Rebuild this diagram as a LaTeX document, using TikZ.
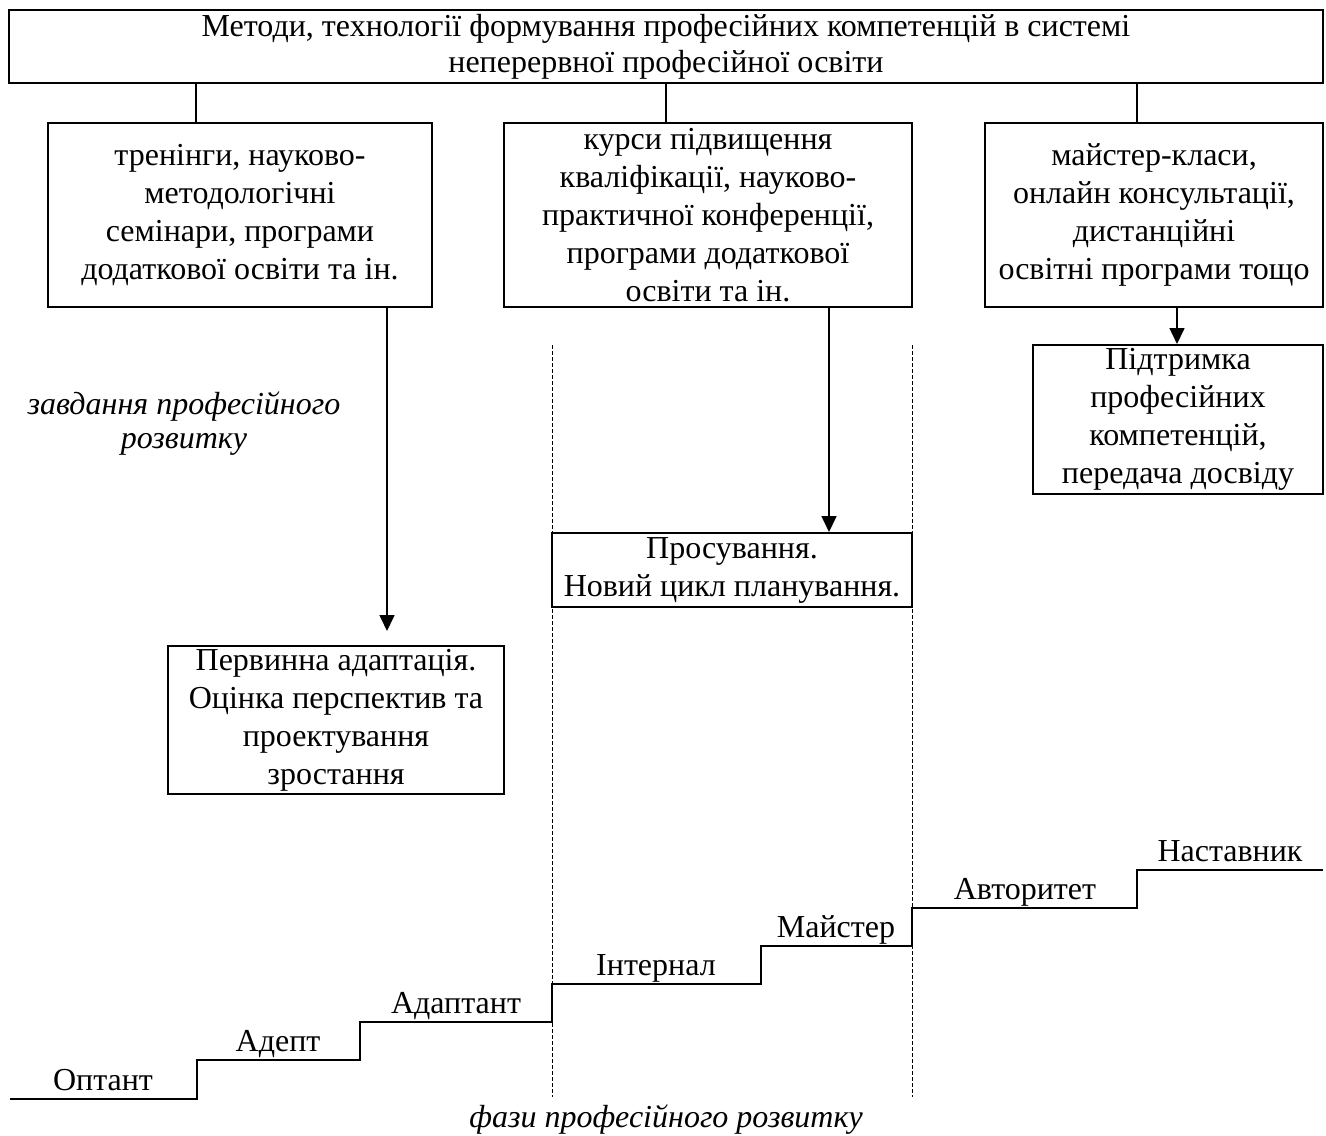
\documentclass[tikz,border=0pt]{standalone}
\usepackage{fontspec}
\setmainfont{Liberation Serif}
\usetikzlibrary{arrows.meta}

\tikzset{
  box/.style = {draw, line width=1pt, inner sep=0pt, align=center},
  link/.style = {line width=0.8pt},
  arr/.style = {line width=0.8pt, -{Triangle[length=8pt,width=7.5pt]}},
  phase/.style = {line width=0.4pt, dash pattern=on 2pt off 1pt},
  stair/.style = {line width=1.3pt},
  stage/.style = {anchor=base},
}

\begin{document}
\begin{tikzpicture}[x=0.5pt, y=-0.5pt, font=\fontsize{16}{19}\selectfont]
			\useasboundingbox (0,0) rectangle (1326,1135);

			% boxes
			\node[box, minimum width=657pt, minimum height=36.5pt, font=\fontsize{16}{18}\selectfont] (top) at (666,46.5)
				{Методи, технології формування професійних компетенцій в системі\\неперервної професійної освіти};

			\node[box, minimum width=192pt, minimum height=92pt] (train) at (240,215)
				{тренінги, науково-\\методологічні\\семінари, програми\\додаткової освіти та ін.};
			\node[box, minimum width=204pt, minimum height=92pt] (course) at (708,215)
				{курси підвищення\\кваліфікації, науково-\\практичної конференції,\\програми додаткової\\освіти та ін.};
			\node[box, minimum width=169pt, minimum height=92pt] (master) at (1154,215)
				{майстер-класи,\\онлайн консультації,\\дистанційні\\освітні програми тощо};

			\node[box, minimum width=145pt, minimum height=74.5pt] (support) at (1178,419.5)
				{Підтримка\\професійних\\компетенцій,\\передача досвіду};
			\node[box, minimum width=180pt, minimum height=37pt] (advance) at (732,570)
				{Просування.\\Новий цикл планування.};
			\node[box, minimum width=168pt, minimum height=74pt] (adapt) at (336,720)
				{Первинна адаптація.\\Оцінка перспектив та\\проектування\\зростання};

			% connectors
			\coordinate (c1) at (196,0);
			\coordinate (c2) at (666,0);
			\coordinate (c3) at (1137,0);
			\draw[link] (top.south -| c1) -- (train.north -| c1);
			\draw[link] (top.south -| c2) -- (course.north -| c2);
			\draw[link] (top.south -| c3) -- (master.north -| c3);

			\coordinate (a1) at (387,0);
			\coordinate (a2) at (829,0);
			\coordinate (a3) at (1177,0);
			\draw[arr, shorten >=7pt] (train.south -| a1) -- (adapt.north -| a1);
			\draw[arr] (course.south -| a2) -- (advance.north -| a2);
			\draw[arr] (master.south -| a3) -- (support.north -| a3);

			% phase borders
			\draw[phase] (552,345) -- (552,1097);
			\draw[phase] (912,345) -- (912,1097);

			% stairs
			\draw[stair] (10,1099) -- (197,1099) -- (197,1060) -- (360,1060) -- (360,1022)
				-- (552,1022) -- (552,984) -- (761,984) -- (761,946) -- (912,946)
				-- (912,908) -- (1137,908) -- (1137,870) -- (1323,870);

			\node[stage] (optant) at (103,1090) {Оптант};
			\node[stage] (adept) at (278,1051) {Адепт};
			\node[stage] (adaptant) at (456,1013) {Адаптант};
			\node[stage] (internal) at (656,975) {Інтернал};
			\node[stage] (maister) at (836,937) {Майстер};
			\node[stage] (avtor) at (1025,899) {Авторитет};
			\node[stage] (nastav) at (1230,861) {Наставник};

			% captions
			\node[align=center, font=\fontsize{16}{17}\selectfont\itshape] (tasks) at (184,424)
				{завдання професійного\\розвитку};
			\node[font=\fontsize{16}{19}\selectfont\itshape] (phases) at (666,1120)
				{фази професійного розвитку};
\end{tikzpicture}
\end{document}
